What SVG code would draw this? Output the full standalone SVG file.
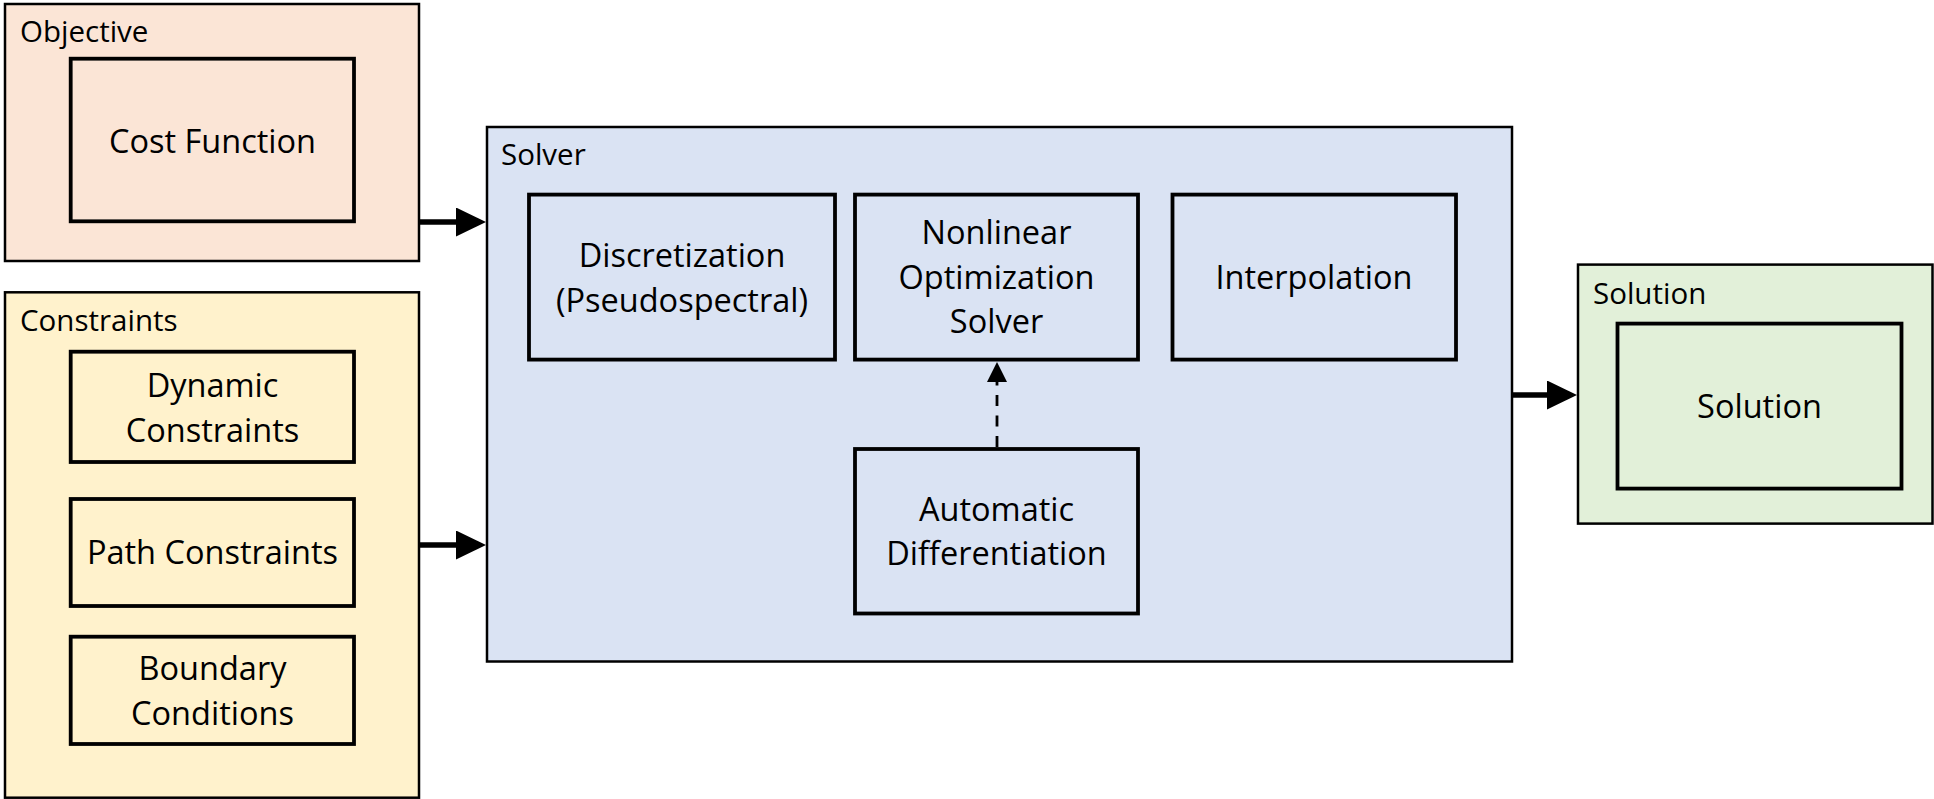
<svg xmlns="http://www.w3.org/2000/svg" width="1934" height="799" viewBox="0 0 1934 799">
<style>
.outer{stroke:#000;stroke-width:2.5}
.inner{fill:none;stroke:#000;stroke-width:3.8}
.lbl{font-family:"Open Sans","Noto Sans","Liberation Sans",sans-serif;font-size:29.5px;fill:#000}
.txt{font-family:"Open Sans","Noto Sans","Liberation Sans",sans-serif;font-size:32.5px;fill:#000;text-anchor:middle}
.conn{stroke:#000;stroke-width:5.5;fill:none}
.dash{stroke:#000;stroke-width:2.8;fill:none;stroke-dasharray:11 9.5}
</style>
<defs>
<marker id="arr" markerUnits="userSpaceOnUse" markerWidth="31" markerHeight="30" refX="1" refY="14.5" orient="auto">
<path d="M0,0 L30,14.5 L0,29 z" fill="#000"/>
</marker>
<marker id="arrs" markerUnits="userSpaceOnUse" markerWidth="21" markerHeight="21" refX="1" refY="10" orient="auto">
<path d="M0,0 L20,10 L0,20 z" fill="#000"/>
</marker>
</defs>
<rect width="1934" height="799" fill="#fff"/>

<g id="objective">
<rect class="outer" x="5" y="4" width="414" height="257" fill="#FBE5D6"/>
<text class="lbl" x="20" y="42">Objective</text>
</g>
<g id="cost-function">
<rect class="inner" x="70.7" y="58.7" width="283.3" height="162.6"/>
<text class="txt" x="212.5" y="153">Cost Function</text>
</g>

<g id="constraints">
<rect class="outer" x="5" y="292.3" width="414" height="505.4" fill="#FFF2CC"/>
<text class="lbl" x="20" y="331">Constraints</text>
</g>
<g id="dynamic-constraints">
<rect class="inner" x="70.7" y="351.7" width="283.3" height="110.3"/>
<text class="txt" x="212.5" y="397">Dynamic</text>
<text class="txt" x="212.5" y="442">Constraints</text>
</g>
<g id="path-constraints">
<rect class="inner" x="70.7" y="499" width="283.3" height="107"/>
<text class="txt" x="212.5" y="564">Path Constraints</text>
</g>
<g id="boundary-conditions">
<rect class="inner" x="70.7" y="636.7" width="283.3" height="107.3"/>
<text class="txt" x="212.5" y="680">Boundary</text>
<text class="txt" x="212.5" y="725">Conditions</text>
</g>

<g id="solver">
<rect class="outer" x="487" y="127" width="1025" height="534.5" fill="#DAE3F3"/>
<text class="lbl" x="501" y="165">Solver</text>
</g>
<g id="discretization">
<rect class="inner" x="529" y="194.6" width="306" height="165"/>
<text class="txt" x="682" y="267">Discretization</text>
<text class="txt" x="682" y="312">(Pseudospectral)</text>
</g>
<g id="nlp-solver">
<rect class="inner" x="855" y="194.6" width="283" height="165"/>
<text class="txt" x="996.5" y="244">Nonlinear</text>
<text class="txt" x="996.5" y="288.6">Optimization</text>
<text class="txt" x="996.5" y="333">Solver</text>
</g>
<g id="interpolation">
<rect class="inner" x="1172.5" y="194.6" width="283.5" height="165"/>
<text class="txt" x="1314" y="288.6">Interpolation</text>
</g>
<g id="auto-diff">
<rect class="inner" x="855" y="449" width="283" height="164.5"/>
<text class="txt" x="996.5" y="520.7">Automatic</text>
<text class="txt" x="996.5" y="565.4">Differentiation</text>
</g>

<g id="solution">
<rect class="outer" x="1578" y="264.6" width="354.5" height="259" fill="#E2F0D9"/>
<text class="lbl" x="1593" y="304">Solution</text>
</g>
<g id="solution-inner">
<rect class="inner" x="1617.5" y="323.6" width="284" height="165"/>
<text class="txt" x="1759.5" y="418">Solution</text>
</g>

<g id="connectors">
<line class="conn" x1="420" y1="222" x2="457" y2="222" marker-end="url(#arr)"/>
<line class="conn" x1="420" y1="545" x2="457" y2="545" marker-end="url(#arr)"/>
<line class="conn" x1="1513" y1="395" x2="1548" y2="395" marker-end="url(#arr)"/>
<line class="dash" x1="997" y1="447" x2="997" y2="381" marker-end="url(#arrs)"/>
</g>
</svg>
